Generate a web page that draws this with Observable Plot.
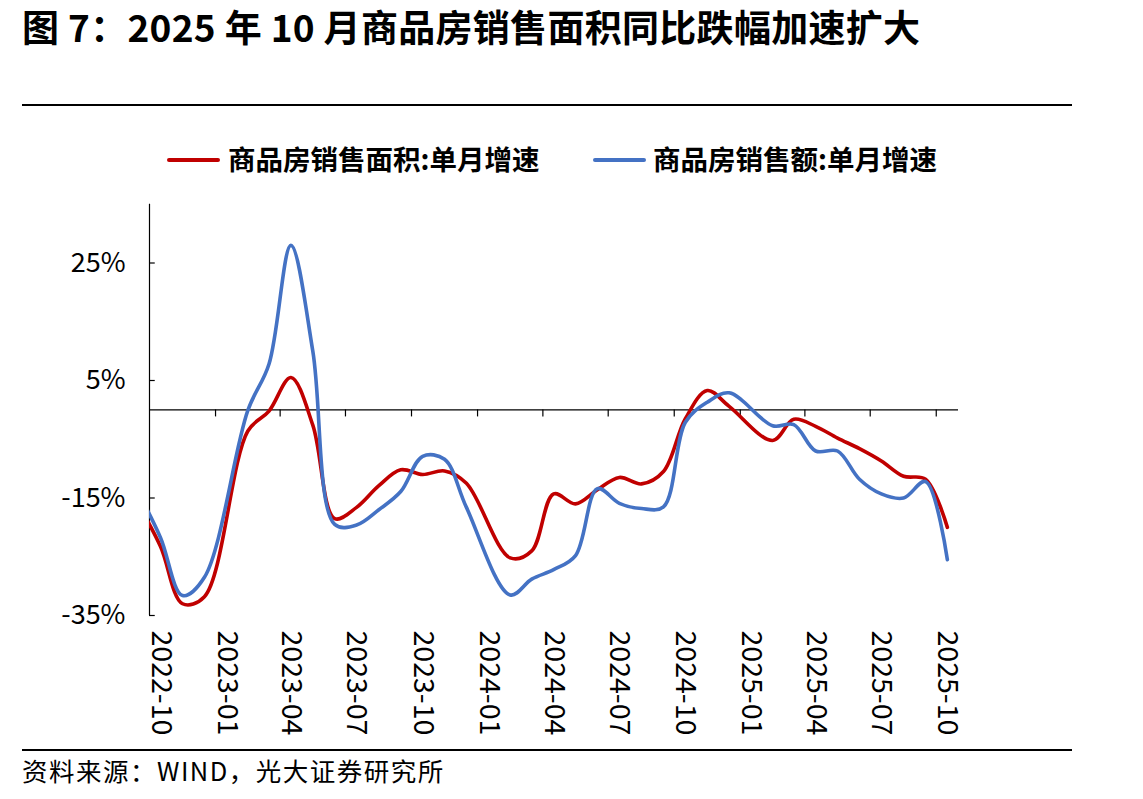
<!DOCTYPE html>
<html>
<head>
<meta charset="utf-8">
<script src="https://cdn.jsdelivr.net/npm/d3@7"></script>
<script src="https://cdn.jsdelivr.net/npm/@observablehq/plot@0.6"></script>
<style>
  html, body { margin: 0; padding: 0; background: #fff; }
  body { font-family: "Noto Sans CJK SC", "Noto Sans", sans-serif; color: #000; }
  #wrap { position: relative; width: 1143px; height: 799px; overflow: hidden; background: #fff; }
  #title { position: absolute; left: 22px; top: 0px; font-size: 37px; font-weight: 700; line-height: 1.45; letter-spacing: 0.3px; white-space: nowrap; }
  .hr { position: absolute; left: 22px; width: 1050px; height: 2px; background: #000; }
  .sw { position: absolute; width: 53px; height: 4px; border-radius: 2px; }
  .lt { position: absolute; font-size: 27.5px; font-weight: 700; line-height: 1.2; white-space: nowrap; }
  #chart { position: absolute; left: 0; top: 190px; }
  #source { position: absolute; left: 22px; top: 755px; font-size: 25.5px; letter-spacing: 1.5px; line-height: 1.2; white-space: nowrap; }
</style>
</head>
<body>
<div id="wrap">
  <div id="title">图 7：2025 年 10 月商品房销售面积同比跌幅加速扩大</div>
  <div class="hr" style="top:104px"></div>
  <div class="sw" id="sw1" style="left:167px;top:158px"></div>
  <div class="lt" id="lt1" style="left:228px;top:142px"></div>
  <div class="sw" id="sw2" style="left:593px;top:158px"></div>
  <div class="lt" id="lt2" style="left:653px;top:142px"></div>
  <div id="chart"></div>
  <div class="hr" style="top:749px"></div>
  <div id="source">资料来源：WIND，光大证券研究所</div>
</div>
<script>
// ---- data (single-month YoY, %) ----
const months = [
  "2022-09","2022-10","2022-11","2022-12",
  "2023-01","2023-02","2023-03","2023-04","2023-05","2023-06","2023-07","2023-08","2023-09","2023-10","2023-11","2023-12",
  "2024-01","2024-02","2024-03","2024-04","2024-05","2024-06","2024-07","2024-08","2024-09","2024-10","2024-11","2024-12",
  "2025-01","2025-02","2025-03","2025-04","2025-05","2025-06","2025-07","2025-08","2025-09","2025-10"
];
const areaYoY = [
  -16.2, -23.3, -33.0, -31.8,
  null, -3.6, -0.2, 5.5, -2.6, -18.5, -16.6, -12.9, -10.2, -11.0, -10.4, -12.5,
  null, -25.2, -24.0, -14.3, -16.0, -13.6, -11.5, -12.6, -10.5, -1.5, 3.3, 0.6,
  null, -5.2, -1.6, -2.8, -4.8, -6.6, -8.7, -11.3, -11.8, -20.0
];
const amountYoY = [
  -14.2, -21.8, -31.6, -28.5,
  null, -0.1, 7.8, 28.0, 10.0, -19.5, -19.6, -17.0, -13.9, -7.9, -8.4, -16.6,
  null, -31.5, -28.8, -27.2, -24.8, -13.4, -15.9, -16.8, -16.5, -2.1, 1.3, 2.9,
  null, -2.7, -2.5, -7.0, -7.0, -11.8, -14.3, -15.0, -12.2, -25.5
];
const seriesNames = ["商品房销售面积:单月增速", "商品房销售额:单月增速"];
const seriesColors = ["#C00000", "#4472C4"];
const xTickLabels = ["2022-10","2023-01","2023-04","2023-07","2023-10","2024-01","2024-04","2024-07","2024-10","2025-01","2025-04","2025-07","2025-10"];
const yTicks = [-35, -15, 5, 25];
const yDomain = [-35, 35];
const xDomainMonths = ["2022-10", "2025-11"];

// ---- helpers ----
const monthStart = s => { const [y, m] = s.split("-").map(Number); return new Date(Date.UTC(y, m - 1, 1)); };
const monthMid = s => { const [y, m] = s.split("-").map(Number); return new Date((Date.UTC(y, m - 1, 1) + Date.UTC(y, m, 1)) / 2); };

const rows = vals => months.map((m, i) => ({date: monthMid(m), v: vals[i]})).filter(d => d.v != null);
const areaRows = rows(areaYoY);
const amountRows = rows(amountYoY);
const x0 = monthStart(xDomainMonths[0]);
const x1 = monthStart(xDomainMonths[1]);
const tickStarts = xTickLabels.slice(1).map(monthStart);

document.getElementById("sw1").style.background = seriesColors[0];
document.getElementById("sw2").style.background = seriesColors[1];
document.getElementById("lt1").textContent = seriesNames[0];
document.getElementById("lt2").textContent = seriesNames[1];

const font = '"Noto Sans CJK SC", "Noto Sans", sans-serif';
const chart = Plot.plot({
  width: 1143,
  height: 555,
  marginLeft: 149,
  marginRight: 185,
  marginTop: 13.75,
  marginBottom: 130,
  style: {fontFamily: font, fontSize: "26px", color: "#000", background: "transparent", overflow: "visible"},
  x: {type: "utc", domain: [x0, x1], axis: null},
  y: {domain: yDomain, axis: null},
  marks: [
    Plot.ruleY([0], {stroke: "#000", strokeWidth: 1.2}),
    Plot.ruleX(tickStarts, {y1: 0, y2: -1.2, stroke: "#000", strokeWidth: 1.2}),
    Plot.ruleX([x0], {stroke: "#000", strokeWidth: 1.2}),
    Plot.ruleY(yTicks, {x1: x0, x2: d3.utcDay.offset(x0, 8), stroke: "#000", strokeWidth: 1.2}),
    Plot.text(yTicks, {y: d => d, text: d => d + "%", frameAnchor: "left", textAnchor: "end", dx: -24, fontSize: 27, fill: "#000"}),
    Plot.text(xTickLabels, {x: d => monthMid(d), text: d => d, frameAnchor: "bottom", rotate: 90, textAnchor: "start", lineAnchor: "middle", dy: 15, fontSize: 28.5, fill: "#000"}),
    Plot.line(areaRows, {x: "date", y: "v", stroke: seriesColors[0], strokeWidth: 3.6, curve: "catmull-rom", clip: true}),
    Plot.line(amountRows, {x: "date", y: "v", stroke: seriesColors[1], strokeWidth: 3.6, curve: "catmull-rom", clip: true})
  ]
});
document.getElementById("chart").appendChild(chart);
</script>
</body>
</html>
